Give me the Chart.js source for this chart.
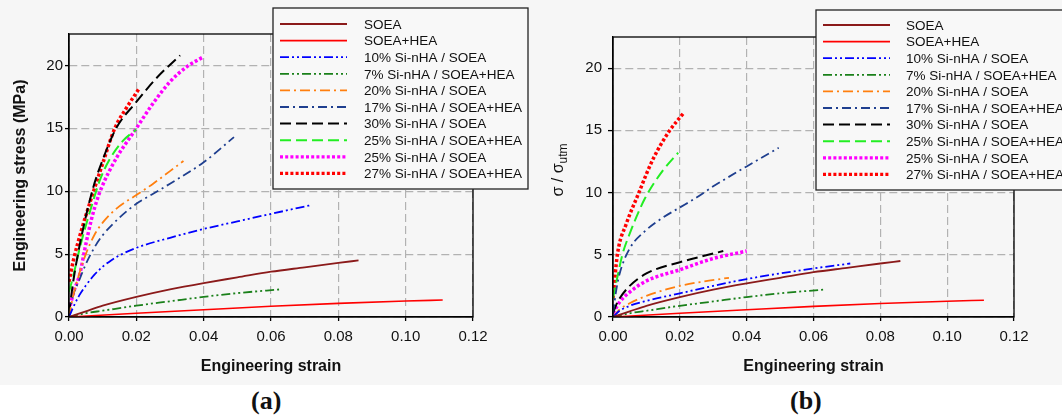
<!DOCTYPE html>
<html>
<head>
    <title>Stress-strain curves</title>
    <script src="https://cdn.jsdelivr.net/npm/chart.js"></script>
    <style>
        body { margin: 0; background: #fff; width: 1062px; height: 418px; position: relative; overflow: hidden; }
        canvas { position: absolute; top: 0; background: #f6f6f6; }
        #chart-a { left: 0; }
        #chart-b { left: 531px; }
        .panel-label { position: absolute; top: 386px; line-height: 30px; font: bold 26px "Liberation Serif", "Times New Roman", serif; color: #111; }
    </style>
</head>
<body>
    <canvas id="chart-a" width="531" height="385"></canvas>
    <canvas id="chart-b" width="531" height="385"></canvas>
    <div class="panel-label" style="left:251px">(a)</div>
    <div class="panel-label" style="left:790px">(b)</div>

    <script>
        const seriesLabels = ['SOEA', 'SOEA+HEA', '10% Si-nHA / SOEA', '7% Si-nHA / SOEA+HEA',
            '20% Si-nHA / SOEA', '17% Si-nHA / SOEA+HEA', '30% Si-nHA / SOEA',
            '25% Si-nHA / SOEA+HEA', '25% Si-nHA / SOEA', '27% Si-nHA / SOEA+HEA'];
        const xTicks = [0, 0.02, 0.04, 0.06, 0.08, 0.10, 0.12];
        const yTicks = [0, 5, 10, 15, 20];

        // (a) engineering stress, MPa
        const strainSOEA = [0, 0.005, 0.01, 0.02, 0.03, 0.04, 0.05, 0.06, 0.07, 0.08, 0.086];
        const stressSOEA = [0, 0.45, 0.9, 1.6, 2.2, 2.7, 3.15, 3.6, 3.95, 4.3, 4.5];
        const strainHEA = [0, 0.02, 0.04, 0.06, 0.08, 0.1, 0.111];
        const stressHEA = [0, 0.3, 0.58, 0.85, 1.08, 1.27, 1.35];
        const strain10 = [0, 0.0013, 0.003, 0.005, 0.0075, 0.01, 0.0125, 0.015, 0.02, 0.03, 0.04, 0.05, 0.06, 0.072];
        const stress10 = [0, 0.8, 1.7, 2.5, 3.35, 4.0, 4.5, 4.9, 5.5, 6.3, 7.0, 7.6, 8.2, 8.9];
        const strain7 = [0, 0.005, 0.01, 0.02, 0.03, 0.04, 0.05, 0.063];
        const stress7 = [0, 0.3, 0.5, 0.9, 1.25, 1.6, 1.9, 2.2];
        const strain20 = [0, 0.001, 0.003, 0.005, 0.0075, 0.01, 0.014, 0.02, 0.025, 0.03, 0.034];
        const stress20 = [0, 1.4, 3.4, 5.0, 6.5, 7.5, 8.6, 9.7, 10.6, 11.6, 12.4];
        const strain17 = [0, 0.001, 0.003, 0.005, 0.0075, 0.01, 0.015, 0.02, 0.025, 0.03, 0.04, 0.049];
        const stress17 = [0, 1.5, 2.9, 4.2, 5.5, 6.5, 7.9, 9.0, 9.8, 10.6, 12.3, 14.3];
        const strain30 = [0, 0.0013, 0.0037, 0.0072, 0.01, 0.014, 0.02, 0.026, 0.033];
        const stress30 = [0.3, 2.9, 6.4, 10.3, 12.5, 15.0, 17.1, 19.0, 20.8];
        const strain25h = [0, 0.0013, 0.0033, 0.0067, 0.0092, 0.012, 0.016, 0.02];
        const stress25h = [2.0, 3.3, 5.6, 8.8, 10.9, 12.5, 14.0, 14.9];
        const strain25 = [0, 0.0013, 0.0033, 0.0047, 0.0067, 0.0082, 0.0097, 0.014, 0.02, 0.025, 0.03, 0.035, 0.04];
        const stress25 = [0.5, 1.9, 3.5, 5.4, 7.8, 9.2, 10.3, 12.6, 15.0, 17.0, 18.7, 19.9, 20.7];
        const strain27 = [0, 0.0013, 0.0037, 0.0067, 0.01, 0.0136, 0.017, 0.0207];
        const stress27 = [2.8, 4.5, 6.9, 9.5, 12.2, 15.0, 16.6, 18.1];

        // (b) sigma / sigma_utm
        const bStrain10 = [0, 0.002, 0.005, 0.01, 0.02, 0.03, 0.04, 0.05, 0.06, 0.071];
        const bRatio10 = [0, 0.5, 0.9, 1.3, 1.9, 2.5, 3.05, 3.5, 3.9, 4.3];
        const bStrain20 = [0, 0.002, 0.005, 0.01, 0.02, 0.027, 0.0347];
        const bRatio20 = [0, 0.6, 1.1, 1.7, 2.5, 2.85, 3.15];
        const bStrain17 = [0, 0.001, 0.002, 0.005, 0.01, 0.015, 0.02, 0.025, 0.03, 0.04, 0.0496];
        const bRatio17 = [0.3, 2.2, 3.5, 5.5, 7.0, 8.0, 8.8, 9.6, 10.5, 12.1, 13.6];
        const bStrain30 = [0, 0.001, 0.002, 0.005, 0.01, 0.02, 0.027, 0.033];
        const bRatio30 = [0.3, 1.0, 1.5, 2.5, 3.5, 4.4, 4.9, 5.3];
        const bStrain25h = [0, 0.001, 0.0028, 0.005, 0.0095, 0.015, 0.0195];
        const bRatio25h = [1.5, 2.8, 5.0, 6.7, 9.5, 11.8, 13.2];
        const bStrain25 = [0, 0.002, 0.005, 0.01, 0.02, 0.03, 0.04];
        const bRatio25 = [0.3, 1.2, 2.0, 2.9, 3.8, 4.7, 5.3];
        const bStrain27 = [0, 0.0013, 0.004, 0.0073, 0.012, 0.017, 0.0212];
        const bRatio27 = [1.5, 5.0, 7.5, 9.7, 12.7, 15.0, 16.4];

        const lineStyles = [
            { color: '#8B1A1A', dash: [], width: 1.8 },
            { color: '#FF0000', dash: [], width: 1.6 },
            { color: '#0000FF', dash: [9, 3, 2, 3, 2, 3], width: 1.8 },
            { color: '#1A801A', dash: [9, 3, 2, 3, 2, 3], width: 1.8 },
            { color: '#FF7F0E', dash: [10, 4, 2, 4], width: 1.8 },
            { color: '#1F3F8F', dash: [9, 4, 2, 4], width: 1.8 },
            { color: '#000000', dash: [11, 5], width: 2 },
            { color: '#22EE22', dash: [11, 5], width: 2 },
            { color: '#FF00FF', dash: [3, 2.2], width: 3.5 },
            { color: '#FF0000', dash: [3, 2.2], width: 3.5 }
        ];

        Chart.defaults.font.family = '"Liberation Sans", Arial, sans-serif';

        function pts(xs, ys) {
            return xs.map((x, i) => ({ x: x, y: ys[i] }));
        }

        function makeDatasets(pairs) {
            return pairs.map((p, i) => ({
                label: seriesLabels[i],
                data: pts(p[0], p[1]),
                showLine: true,
                borderColor: lineStyles[i].color,
                borderDash: lineStyles[i].dash,
                borderWidth: lineStyles[i].width,
                borderCapStyle: 'butt',
                pointRadius: 0,
                cubicInterpolationMode: 'monotone'
            }));
        }

        // plot frame, legend box and the subscripted y title
        const frameAndLegend = {
            id: 'frameAndLegend',
            afterDatasetsDraw(chart) {
                const ctx = chart.ctx, a = chart.chartArea;
                ctx.save();
                ctx.strokeStyle = '#000';
                ctx.lineWidth = 1.3;
                ctx.strokeRect(a.left, a.top, a.right - a.left, a.bottom - a.top);
                ctx.restore();
            },
            afterDraw(chart, args, opts) {
                const ctx = chart.ctx;
                ctx.save();
                ctx.fillStyle = '#f8f8f8';
                ctx.fillRect(opts.x, opts.y, opts.w, opts.h);
                ctx.strokeStyle = '#222';
                ctx.lineWidth = 1.3;
                ctx.strokeRect(opts.x, opts.y, opts.w, opts.h);
                ctx.font = '13.5px "Liberation Sans", Arial, sans-serif';
                ctx.textBaseline = 'middle';
                chart.data.datasets.forEach((ds, i) => {
                    const ry = opts.y + opts.rowStart + i * 16.6;
                    ctx.beginPath();
                    ctx.setLineDash(ds.borderDash);
                    ctx.strokeStyle = ds.borderColor;
                    ctx.lineWidth = Math.min(ds.borderWidth, 3.2);
                    ctx.moveTo(opts.x + 7, ry);
                    ctx.lineTo(opts.x + 74, ry);
                    ctx.stroke();
                    ctx.setLineDash([]);
                    ctx.fillStyle = '#111';
                    ctx.fillText(ds.label, opts.x + opts.textOffset, ry + 1);
                });
                if (opts.ratioTitle) {
                    ctx.translate(27, 170);
                    ctx.rotate(-Math.PI / 2);
                    ctx.textBaseline = 'alphabetic';
                    ctx.font = '16px "Liberation Sans", Arial, sans-serif';
                    const main = 'σ / σ';
                    const wMain = ctx.measureText(main).width;
                    ctx.font = '12px "Liberation Sans", Arial, sans-serif';
                    const wSub = ctx.measureText('utm').width;
                    const start = -(wMain + wSub) / 2;
                    ctx.fillText('utm', start + wMain, 9);
                    ctx.font = '16px "Liberation Sans", Arial, sans-serif';
                    ctx.fillText(main, start, 4.5);
                }
                ctx.restore();
            }
        };

        function makeScales(yTitle, yWidth, yPad, yTick) {
            return {
                x: {
                    type: 'linear', min: 0, max: 0.12,
                    afterBuildTicks: s => { s.ticks = xTicks.map(v => ({ value: v })); },
                    ticks: { color: '#111', font: { size: 15 }, padding: 7, callback: v => v.toFixed(2) },
                    grid: { color: '#b2b2b2', lineWidth: 1.2, tickLength: 4, tickColor: '#000', tickWidth: 1.3, tickBorderDash: [] },
                    border: { color: '#000', width: 1.3, dash: [8, 4] },
                    title: { display: true, text: 'Engineering strain', color: '#111',
                             font: { size: 16, weight: 'bold' }, padding: { top: 0, bottom: 3.4 } },
                    afterFit: s => { s.height = 63; }
                },
                y: {
                    type: 'linear', min: 0, max: 22.5,
                    afterBuildTicks: s => { s.ticks = yTicks.map(v => ({ value: v })); },
                    ticks: { color: '#111', font: { size: 15 }, padding: yPad },
                    grid: { color: '#b2b2b2', lineWidth: 1.2, tickLength: yTick, tickColor: '#000', tickWidth: 1.3, tickBorderDash: [] },
                    border: { color: '#000', width: 1.3, dash: [8, 4] },
                    title: yTitle ? { display: true, text: yTitle, color: '#111',
                             font: { size: 16, weight: 'bold' }, padding: { top: 11.4, bottom: 0 } } : { display: false },
                    afterFit: s => { s.width = yWidth; }
                }
            };
        }

        new Chart(document.getElementById('chart-a'), {
            type: 'scatter',
            data: {
                datasets: makeDatasets([
                    [strainSOEA, stressSOEA], [strainHEA, stressHEA], [strain10, stress10], [strain7, stress7],
                    [strain20, stress20], [strain17, stress17], [strain30, stress30], [strain25h, stress25h],
                    [strain25, stress25], [strain27, stress27]
                ])
            },
            options: {
                responsive: false,
                animation: false,
                events: [],
                layout: { padding: { left: 0, top: 34, right: 58, bottom: 5 } },
                scales: makeScales('Engineering stress (MPa)', 69, 2, 4),
                plugins: {
                    legend: { display: false },
                    tooltip: { enabled: false },
                    frameAndLegend: { x: 273, y: 8, w: 255, h: 181, rowStart: 16, textOffset: 91 }
                }
            },
            plugins: [frameAndLegend]
        });

        new Chart(document.getElementById('chart-b'), {
            type: 'scatter',
            data: {
                datasets: makeDatasets([
                    [strainSOEA, stressSOEA], [strainHEA, stressHEA], [bStrain10, bRatio10], [strain7, stress7],
                    [bStrain20, bRatio20], [bStrain17, bRatio17], [bStrain30, bRatio30], [bStrain25h, bRatio25h],
                    [bStrain25, bRatio25], [bStrain27, bRatio27]
                ])
            },
            options: {
                responsive: false,
                animation: false,
                events: [],
                layout: { padding: { left: 0, top: 37, right: 48, bottom: 5 } },
                scales: makeScales(null, 82, 6, 5),
                plugins: {
                    legend: { display: false },
                    tooltip: { enabled: false },
                    frameAndLegend: { x: 285, y: 10, w: 300, h: 180, rowStart: 15, textOffset: 90, ratioTitle: true }
                }
            },
            plugins: [frameAndLegend]
        });
    </script>
</body>
</html>
